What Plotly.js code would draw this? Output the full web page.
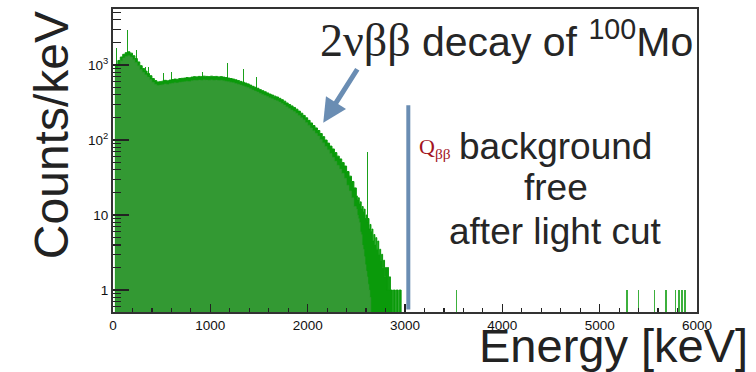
<!DOCTYPE html>
<html>
<head>
<meta charset="utf-8">
<script src="https://cdn.plot.ly/plotly-3.0.1.min.js"></script>
<style>html,body{margin:0;padding:0;background:#fff;}#chart{width:756px;height:372px;}</style>
</head>
<body>
<div id="chart"></div>
<script>
// ---- data ----
const binWidth = 25; // keV, main body bins starting at 0
// upper envelope of the spectrum (bright green edge)
const countsUpper = [
  0,1020,1150,1280,1390,1460,1500,1440,1330,1220,
  1100,980,900,830,770,720,660,620,595,600,
  610,625,615,630,640,650,645,660,665,670,
  680,675,690,700,695,705,700,710,705,700,
  710,700,705,695,700,690,680,670,660,650,
  635,620,605,590,575,560,540,520,505,490,
  470,455,440,425,410,398,385,375,360,345,
  330,312,298,285,272,258,243,228,213,198,
  183,169,156,145,134,122,111,100,91,83,
  76,68,61,56,50,45,38,33,28,23
];
// lower envelope (dark green fill body)
const countsLower = [
  0,900,1020,1140,1240,1300,1330,1280,1180,1080,
  980,870,800,740,690,640,590,555,535,540,
  545,560,550,565,572,580,578,590,595,600,
  608,604,617,626,622,630,627,635,630,627,
  635,627,630,622,627,617,608,600,590,582,
  568,555,541,528,514,500,483,465,451,438,
  420,406,393,380,366,355,343,334,321,307,
  293,277,264,252,240,227,213,199,186,172,
  158,145,133,123,113,102,92,82,74,66,
  59,52,46,41,36,31,25,21,17,13
];
// spectrum tail, 10 keV bins starting at 2500 keV
const tailStart = 2500, tailWidth = 10;
const tailUpper = [
  18,16,17,14,15,12,13,11,12,9,
  10,8,9,6.5,7.5,6,6.5,4.5,5.5,4,
  5,3.5,4.5,3,3.5,2.5,3,2,2.5,1.5,
  2,1,2,1,1.5,1,1,0,1,1,
  0,1,1,0,1,1,0,0
];
const tailLower = [
  12,10,9,8,6,5.5,4,3.5,2.8,2.2,
  1.8,1.5,1.2,1,0.8,0,0,0,0,0,
  0,0,0,0,0,0,0,0,0,0,
  0,0,0,0,0,0,0,0,0,0,
  0,0,0,0,0,0,0,0
];
// narrow gamma lines sticking out of the continuum
const spikeEnergy = [40,150,240,330,365,520,600,915,1175,1340,1470,2615];
const spikeCounts = [1700,2900,1600,940,930,780,800,800,1060,890,700,69];
// isolated single counts above the endpoint
const singleEnergy = [3525,5280,5400,5560,5675,5690,5775,5815,5845,5870,5880];
const singleCounts = [1,1,1,1,1,1,1,1,1,1,1];
// Q-value of 100Mo double beta decay
const qbb = 3034;
const qLineCounts = [0.55, 290];
const xTickVals = [0,1000,2000,3000,4000,5000,6000];
const yTickVals = [1,10,100,1000];
const yTickText = ['1','10','10<sup>2</sup>','10<sup>3</sup>'];

// ---- build: step outlines (histogram) from bin edges ----
const FLOOR = 1e-3; // empty bins drop below the visible log range
function stepSeries(mainVals, tailVals) {
  const xs = [], ys = [];
  mainVals.forEach((v, i) => { xs.push(binWidth * i); ys.push(v > 0 ? v : FLOOR); });
  tailVals.forEach((v, i) => { xs.push(tailStart + tailWidth * i); ys.push(v > 0 ? v : FLOOR); });
  xs.push(tailStart + tailWidth * tailVals.length); ys.push(FLOOR);
  return {xs, ys};
}
const up = stepSeries(countsUpper, tailUpper);
const lo = stepSeries(countsLower, tailLower);

const font = 'Liberation Sans, Arial, Helvetica, sans-serif';
const serif = 'Liberation Serif, Times New Roman, serif';
const bright = '#0a9a0a', dark = '#339933';

const traces = [
  {type:'bar', x: spikeEnergy, y: spikeCounts, width: 9,
   marker:{color:'#1aa01a', line:{width:0}}, hoverinfo:'skip'},
  {type:'scatter', mode:'lines', x: up.xs, y: up.ys, line:{shape:'hv', color:bright, width:1},
   fill:'tozeroy', fillcolor:bright, hoverinfo:'skip'},
  {type:'scatter', mode:'lines', x: lo.xs, y: lo.ys, line:{shape:'hv', color:dark, width:0.5},
   fill:'tozeroy', fillcolor:dark, hoverinfo:'skip'},
  {type:'bar', x: singleEnergy, y: singleCounts, width: 12,
   marker:{color:'#3cb03c', line:{width:0}}, hoverinfo:'skip'},
  {type:'scatter', mode:'lines', x:[qbb, qbb], y: qLineCounts,
   line:{color:'#6a8db3', width:4}, hoverinfo:'skip'}
];

// minor tick positions for the log axis (2..9 per decade)
const yMinor = [];
for (let d = -1; d <= 3; d++) for (let k = 2; k <= 9; k++) yMinor.push(k * Math.pow(10, d));
const xMinor = [];
for (let e = 0; e <= 6000; e += 200) if (e % 1000) xMinor.push(e);

const ann = (o) => Object.assign({xref:'paper', yref:'paper', showarrow:false, xanchor:'center', yanchor:'middle'}, o);

const layout = {
  width:756, height:372,
  margin:{l:113, r:59, t:9, b:60},
  paper_bgcolor:'#fff', plot_bgcolor:'#fff',
  showlegend:false, barmode:'overlay', bargap:0,
  font:{family:font, color:'#111'},
  xaxis:{range:[0,6000], tickmode:'array', tickvals:xTickVals,
    ticks:'inside', ticklen:8, tickwidth:1.5, tickcolor:'#222',
    minor:{tickmode:'array', tickvals:xMinor, ticks:'inside', ticklen:4, tickwidth:1.2, tickcolor:'#222'},
    showgrid:false, zeroline:false, showline:true, linecolor:'#333', linewidth:2, mirror:true,
    tickfont:{size:13.5, family:font, color:'#111'}},
  yaxis:{type:'log', range:[Math.log10(0.51), 3.747], tickmode:'array', tickvals:yTickVals, ticktext:yTickText,
    ticks:'inside', ticklen:16, tickwidth:1.5, tickcolor:'#222',
    minor:{tickmode:'array', tickvals:yMinor, ticks:'inside', ticklen:8, tickwidth:1.2, tickcolor:'#222'},
    showgrid:false, zeroline:false, showline:true, linecolor:'#333', linewidth:2, mirror:true,
    tickfont:{size:13.5, family:font, color:'#111'}},
  annotations:[
    ann({x:-0.106, y:0.584, text:'Counts/keV', textangle:-90, font:{size:48, family:font, color:'#222'}}),
    ann({x:0.857, y:-0.112, text:'Energy [keV]', font:{size:47, family:font, color:'#222'}}),
    ann({x:0.351, y:0.898, xanchor:'left',
     text:'<span style="font-family:Liberation Serif;font-size:46px">2νββ</span> decay of <sup>100</sup>Mo',
     font:{size:41, family:font, color:'#262626'}}),
    {xref:'x', yref:'y', x:2160, y:Math.log10(170), ax:35, ay:-55, text:'', showarrow:true,
     arrowhead:2, arrowsize:0.95, arrowwidth:5, arrowcolor:'#6a8db3'},
    ann({x:0.5205, y:0.541, xanchor:'left', text:'Q<sub>ββ</sub>', font:{size:22, family:serif, color:'#a3141e'}}),
    ann({x:0.758, y:0.5446, text:'background', font:{size:37, family:font, color:'#262626'}}),
    ann({x:0.758, y:0.4125, text:'free', font:{size:37, family:font, color:'#262626'}}),
    ann({x:0.758, y:0.267, text:'after light cut', font:{size:37, family:font, color:'#262626'}})
  ]
};

Plotly.newPlot('chart', traces, layout, {staticPlot:true, displayModeBar:false});
</script>
</body>
</html>
